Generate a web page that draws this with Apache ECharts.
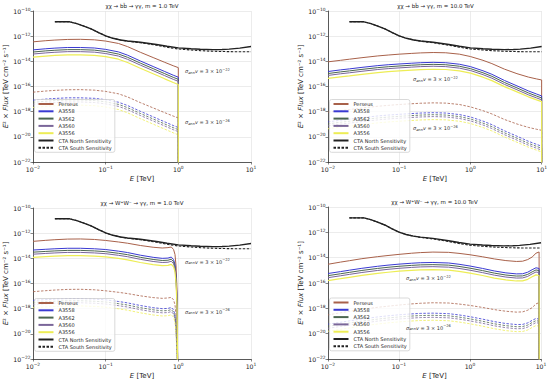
<!DOCTYPE html>
<html><head><meta charset="utf-8">
<script src="https://cdn.jsdelivr.net/npm/echarts@6/dist/echarts.min.js"></script>
<style>html,body{margin:0;padding:0;background:#fff}#chart{width:550px;height:382px}</style>
</head><body><div id="chart"></div>
<script>
// ---- Data: log10 of E^2 x Flux [TeV cm^-2 s^-1] ----
// (the y axis is a linear axis in log10 units, labelled as powers of ten)
// Panel 1: chi chi -> b bbar -> gamma gamma, m = 1.0 TeV
const E_bb1 = [0.01, 0.015, 0.02, 0.03, 0.045, 0.07, 0.1, 0.15, 0.2, 0.3, 0.45, 0.65, 0.85, 0.999, 1.0];
const bb1_Perseus = [-12.45, -12.36, -12.31, -12.26, -12.25, -12.29, -12.39, -12.58, -12.83, -13.28, -13.7, -14.08, -14.35, -14.5, -23];
const bb1_A3558 = [-13.09, -13.0, -12.95, -12.9, -12.9, -12.94, -13.05, -13.25, -13.51, -13.97, -14.41, -14.81, -15.1, -15.26, -23];
const bb1_A3562 = [-13.26, -13.17, -13.12, -13.07, -13.07, -13.11, -13.22, -13.42, -13.68, -14.14, -14.58, -14.98, -15.27, -15.43, -23];
const bb1_A3560 = [-13.42, -13.33, -13.28, -13.23, -13.23, -13.27, -13.38, -13.58, -13.84, -14.3, -14.74, -15.14, -15.43, -15.59, -23];
const bb1_A3556 = [-13.67, -13.58, -13.53, -13.48, -13.48, -13.52, -13.63, -13.83, -14.09, -14.55, -14.99, -15.39, -15.68, -15.84, -23];
const bb1_Perseus_low = [-16.45, -16.36, -16.31, -16.26, -16.25, -16.29, -16.39, -16.58, -16.83, -17.28, -17.7, -18.08, -18.35, -18.5, -23];
const bb1_A3558_low = [-17.09, -17.0, -16.95, -16.9, -16.9, -16.94, -17.05, -17.25, -17.51, -17.97, -18.41, -18.81, -19.1, -19.26, -23];
const bb1_A3562_low = [-17.26, -17.17, -17.12, -17.07, -17.07, -17.11, -17.22, -17.42, -17.68, -18.14, -18.58, -18.98, -19.27, -19.43, -23];
const bb1_A3560_low = [-17.42, -17.33, -17.28, -17.23, -17.23, -17.27, -17.38, -17.58, -17.84, -18.3, -18.74, -19.14, -19.43, -19.59, -23];
const bb1_A3556_low = [-17.67, -17.58, -17.53, -17.48, -17.48, -17.52, -17.63, -17.83, -18.09, -18.55, -18.99, -19.39, -19.68, -19.84, -23];

// Panel 2: chi chi -> b bbar -> gamma gamma, m = 10.0 TeV
const E_bb10 = [0.01, 0.015, 0.02, 0.03, 0.05, 0.07, 0.1, 0.15, 0.2, 0.3, 0.45, 0.7, 1.0, 1.5, 2, 3, 4.5, 6.5, 8.5, 9.99, 10];
const bb10_Perseus = [-14.04, -13.92, -13.83, -13.71, -13.57, -13.5, -13.43, -13.37, -13.33, -13.3, -13.32, -13.43, -13.62, -13.92, -14.18, -14.62, -14.98, -15.25, -15.4, -15.48, -23];
const bb10_A3558 = [-14.81, -14.68, -14.6, -14.48, -14.34, -14.27, -14.21, -14.15, -14.11, -14.08, -14.11, -14.23, -14.42, -14.75, -15.03, -15.52, -15.95, -16.35, -16.6, -16.75, -23];
const bb10_A3562 = [-14.97, -14.84, -14.76, -14.64, -14.5, -14.43, -14.37, -14.31, -14.27, -14.24, -14.27, -14.39, -14.58, -14.91, -15.19, -15.68, -16.11, -16.51, -16.76, -16.91, -23];
const bb10_A3560 = [-15.12, -14.99, -14.91, -14.79, -14.65, -14.58, -14.52, -14.46, -14.42, -14.39, -14.42, -14.54, -14.73, -15.06, -15.34, -15.83, -16.26, -16.66, -16.91, -17.06, -23];
const bb10_A3556 = [-15.36, -15.23, -15.15, -15.03, -14.89, -14.82, -14.76, -14.7, -14.66, -14.63, -14.65, -14.76, -14.94, -15.26, -15.53, -16.01, -16.43, -16.82, -17.06, -17.2, -23];
const bb10_Perseus_low = [-18.04, -17.92, -17.83, -17.71, -17.57, -17.5, -17.43, -17.37, -17.33, -17.3, -17.32, -17.43, -17.62, -17.92, -18.18, -18.62, -18.98, -19.25, -19.4, -19.48, -23];
const bb10_A3558_low = [-18.81, -18.68, -18.6, -18.48, -18.34, -18.27, -18.21, -18.15, -18.11, -18.08, -18.11, -18.23, -18.42, -18.75, -19.03, -19.52, -19.95, -20.35, -20.6, -20.75, -23];
const bb10_A3562_low = [-18.97, -18.84, -18.76, -18.64, -18.5, -18.43, -18.37, -18.31, -18.27, -18.24, -18.27, -18.39, -18.58, -18.91, -19.19, -19.68, -20.11, -20.51, -20.76, -20.91, -23];
const bb10_A3560_low = [-19.12, -18.99, -18.91, -18.79, -18.65, -18.58, -18.52, -18.46, -18.42, -18.39, -18.42, -18.54, -18.73, -19.06, -19.34, -19.83, -20.26, -20.66, -20.91, -21.06, -23];
const bb10_A3556_low = [-19.36, -19.23, -19.15, -19.03, -18.89, -18.82, -18.76, -18.7, -18.66, -18.63, -18.65, -18.76, -18.94, -19.26, -19.53, -20.01, -20.43, -20.82, -21.06, -21.2, -23];

// Panel 3: chi chi -> W+ W- -> gamma gamma, m = 1.0 TeV
const E_ww1 = [0.01, 0.015, 0.02, 0.03, 0.045, 0.07, 0.1, 0.15, 0.2, 0.3, 0.45, 0.6, 0.72, 0.8, 0.86, 0.9, 0.93, 0.96, 0.98];
const ww1_Perseus = [-12.65, -12.57, -12.52, -12.47, -12.46, -12.5, -12.58, -12.7, -12.8, -12.98, -13.12, -13.18, -13.15, -13.1, -13.3, -13.7, -14.6, -16.5, -23];
const ww1_A3558 = [-13.34, -13.28, -13.24, -13.2, -13.2, -13.24, -13.3, -13.43, -13.54, -13.75, -13.92, -14.0, -13.98, -13.9, -14.1, -14.5, -15.4, -17.3, -23];
const ww1_A3562 = [-13.51, -13.45, -13.41, -13.37, -13.37, -13.41, -13.47, -13.6, -13.71, -13.92, -14.09, -14.17, -14.15, -14.07, -14.27, -14.67, -15.57, -17.47, -23];
const ww1_A3560 = [-13.67, -13.61, -13.57, -13.53, -13.53, -13.57, -13.63, -13.76, -13.87, -14.08, -14.25, -14.33, -14.31, -14.23, -14.43, -14.83, -15.73, -17.63, -23];
const ww1_A3556 = [-13.92, -13.86, -13.82, -13.78, -13.78, -13.82, -13.88, -14.01, -14.12, -14.33, -14.5, -14.58, -14.56, -14.48, -14.68, -15.08, -15.98, -17.88, -23];
const ww1_Perseus_low = [-16.65, -16.57, -16.52, -16.47, -16.46, -16.5, -16.58, -16.7, -16.8, -16.98, -17.12, -17.18, -17.15, -17.1, -17.3, -17.7, -18.6, -20.5, -23];
const ww1_A3558_low = [-17.34, -17.28, -17.24, -17.2, -17.2, -17.24, -17.3, -17.43, -17.54, -17.75, -17.92, -18.0, -17.98, -17.9, -18.1, -18.5, -19.4, -21.3, -23];
const ww1_A3562_low = [-17.51, -17.45, -17.41, -17.37, -17.37, -17.41, -17.47, -17.6, -17.71, -17.92, -18.09, -18.17, -18.15, -18.07, -18.27, -18.67, -19.57, -21.47, -23];
const ww1_A3560_low = [-17.67, -17.61, -17.57, -17.53, -17.53, -17.57, -17.63, -17.76, -17.87, -18.08, -18.25, -18.33, -18.31, -18.23, -18.43, -18.83, -19.73, -21.63, -23];
const ww1_A3556_low = [-17.92, -17.86, -17.82, -17.78, -17.78, -17.82, -17.88, -18.01, -18.12, -18.33, -18.5, -18.58, -18.56, -18.48, -18.68, -19.08, -19.98, -21.88, -23];

// Panel 4: chi chi -> W+ W- -> gamma gamma, m = 10.0 TeV
const E_ww10 = [0.01, 0.015, 0.02, 0.03, 0.05, 0.07, 0.1, 0.15, 0.2, 0.3, 0.5, 0.7, 1.0, 1.5, 2.2, 3.2, 4.5, 5.5, 6.5, 7.5, 8.5, 9.4, 9.45];
const ww10_Perseus = [-14.52, -14.35, -14.24, -14.08, -13.92, -13.83, -13.74, -13.65, -13.6, -13.56, -13.58, -13.66, -13.77, -13.93, -14.1, -14.23, -14.3, -14.28, -14.15, -13.95, -13.65, -13.55, -23];
const ww10_A3558 = [-15.25, -15.1, -14.99, -14.84, -14.68, -14.59, -14.51, -14.44, -14.4, -14.38, -14.42, -14.52, -14.66, -14.85, -15.05, -15.2, -15.28, -15.27, -15.15, -14.95, -14.8, -14.85, -23];
const ww10_A3562 = [-15.42, -15.27, -15.16, -15.01, -14.85, -14.76, -14.68, -14.61, -14.57, -14.55, -14.59, -14.69, -14.83, -15.02, -15.22, -15.37, -15.45, -15.44, -15.32, -15.12, -14.97, -15.02, -23];
const ww10_A3560 = [-15.58, -15.43, -15.32, -15.17, -15.01, -14.92, -14.84, -14.77, -14.73, -14.71, -14.75, -14.85, -14.99, -15.18, -15.38, -15.53, -15.61, -15.6, -15.48, -15.28, -15.13, -15.18, -23];
const ww10_A3556 = [-15.81, -15.66, -15.55, -15.4, -15.24, -15.15, -15.07, -15.0, -14.96, -14.94, -14.98, -15.08, -15.22, -15.41, -15.61, -15.76, -15.84, -15.83, -15.71, -15.51, -15.36, -15.41, -23];
const ww10_Perseus_low = [-18.52, -18.35, -18.24, -18.08, -17.92, -17.83, -17.74, -17.65, -17.6, -17.56, -17.58, -17.66, -17.77, -17.93, -18.1, -18.23, -18.3, -18.28, -18.15, -17.95, -17.65, -17.55, -23];
const ww10_A3558_low = [-19.25, -19.1, -18.99, -18.84, -18.68, -18.59, -18.51, -18.44, -18.4, -18.38, -18.42, -18.52, -18.66, -18.85, -19.05, -19.2, -19.28, -19.27, -19.15, -18.95, -18.8, -18.85, -23];
const ww10_A3562_low = [-19.42, -19.27, -19.16, -19.01, -18.85, -18.76, -18.68, -18.61, -18.57, -18.55, -18.59, -18.69, -18.83, -19.02, -19.22, -19.37, -19.45, -19.44, -19.32, -19.12, -18.97, -19.02, -23];
const ww10_A3560_low = [-19.58, -19.43, -19.32, -19.17, -19.01, -18.92, -18.84, -18.77, -18.73, -18.71, -18.75, -18.85, -18.99, -19.18, -19.38, -19.53, -19.61, -19.6, -19.48, -19.28, -19.13, -19.18, -23];
const ww10_A3556_low = [-19.81, -19.66, -19.55, -19.4, -19.24, -19.15, -19.07, -19.0, -18.96, -18.94, -18.98, -19.08, -19.22, -19.41, -19.61, -19.76, -19.84, -19.83, -19.71, -19.51, -19.36, -19.41, -23];

// CTA sensitivities (same in every panel)
const E_cta = [0.02, 0.032, 0.04, 0.05, 0.063, 0.08, 0.1, 0.126, 0.16, 0.2, 0.3, 0.5, 0.7, 1, 1.5, 2, 3, 4, 5, 7, 10];
const cta_North = [-10.86, -10.86, -11.0, -11.2, -11.42, -11.72, -11.98, -12.17, -12.3, -12.38, -12.48, -12.66, -12.8, -12.93, -13.0, -13.04, -13.07, -13.06, -13.03, -12.95, -12.82];
const cta_South = [-10.86, -10.86, -11.0, -11.2, -11.42, -11.72, -11.98, -12.17, -12.3, -12.4, -12.52, -12.72, -12.88, -13.02, -13.1, -13.15, -13.2, -13.22, -13.23, -13.24, -13.24];

// Text
const clusterNames = ['Perseus', 'A3558', 'A3562', 'A3560', 'A3556'];
const ctaNames = ['CTA North Sensitivity', 'CTA South Sensitivity'];
const panelTitles = ['χχ → bb̄ → γγ, m = 1.0 TeV', 'χχ → bb̄ → γγ, m = 10.0 TeV',
                     'χχ → W⁺W⁻ → γγ, m = 1.0 TeV', 'χχ → W⁺W⁻ → γγ, m = 10.0 TeV'];
const xRange = [0.01, 10];          // E [TeV], log axis
const yExpRange = [-22, -10];       // powers of ten on the flux axis
const yExpStep = 2;

// ---- Styling / layout ----
const FONT = 'DejaVu Sans';
const colors = { Perseus: '#a8614a', A3558: '#3a3ad2', A3562: '#4c6650', A3560: '#7a6699', A3556: '#eded55' };
const grids = [
  { left: 33, top: 11, width: 218, height: 151 },
  { left: 328, top: 11, width: 215, height: 151 },
  { left: 33, top: 208, width: 218, height: 151 },
  { left: 328, top: 207, width: 213, height: 152 }
];
const panels = [
  { E: E_bb1, hi: [bb1_Perseus, bb1_A3558, bb1_A3562, bb1_A3560, bb1_A3556], lo: [bb1_Perseus_low, bb1_A3558_low, bb1_A3562_low, bb1_A3560_low, bb1_A3556_low] },
  { E: E_bb10, hi: [bb10_Perseus, bb10_A3558, bb10_A3562, bb10_A3560, bb10_A3556], lo: [bb10_Perseus_low, bb10_A3558_low, bb10_A3562_low, bb10_A3560_low, bb10_A3556_low] },
  { E: E_ww1, hi: [ww1_Perseus, ww1_A3558, ww1_A3562, ww1_A3560, ww1_A3556], lo: [ww1_Perseus_low, ww1_A3558_low, ww1_A3562_low, ww1_A3560_low, ww1_A3556_low] },
  { E: E_ww10, hi: [ww10_Perseus, ww10_A3558, ww10_A3562, ww10_A3560, ww10_A3556], lo: [ww10_Perseus_low, ww10_A3558_low, ww10_A3562_low, ww10_A3560_low, ww10_A3556_low] }
];
const annPos = [[185, 71, 122], [413, 79, 128], [185, 261.7, 311.7], [406, 278, 327.7]];
const legendPos = [[34.5, 99.5], [329.5, 99.5], [34.5, 298.5], [329.5, 298]];

function pairs(E, logs) { return E.map((e, i) => [e, logs[i]]); }
function supText(e) { return (e < 0 ? '\u2212' : '') + Math.abs(e); }
function xLabel(v) { return '{b|10}{s|' + supText(Math.round(Math.log10(v))) + '}'; }
function yLabel(v) { return '{b|10}{s|' + supText(Math.round(v)) + '}'; }
const tickRich = {
  b: { fontFamily: FONT, fontSize: 6.2, color: '#222' },
  s: { fontFamily: FONT, fontSize: 4.4, color: '#222', padding: [0, 0, 4, 0] }
};
const nameRich = { i: { fontFamily: FONT, fontSize: 7, fontStyle: 'italic', color: '#222' }, n: { fontFamily: FONT, fontSize: 7, color: '#222' } };

const xAxes = [], yAxes = [], series = [], legends = [], graphics = [];
grids.forEach((g, i) => {
  xAxes.push({
    type: 'log', logBase: 10, gridIndex: i, min: xRange[0], max: xRange[1],
    name: '{i|E}{n| [TeV]}', nameLocation: 'middle', nameGap: 13,
    nameTextStyle: { fontFamily: FONT, fontSize: 7, color: '#222', rich: nameRich },
    axisLine: { show: true, lineStyle: { color: '#333', width: 0.8 } },
    axisTick: { show: true, length: 2.5, lineStyle: { color: '#333', width: 0.6 } },
    splitLine: { show: true, lineStyle: { color: '#e4e4e4', width: 0.7 } },
    axisLabel: { margin: 3, formatter: xLabel, rich: tickRich, showMinLabel: true, showMaxLabel: true }
  });
  yAxes.push({
    type: 'value', gridIndex: i, min: yExpRange[0], max: yExpRange[1], interval: yExpStep,
    name: '{i|E}{n|² × }{i|Flux}{n| [TeV cm⁻² s⁻¹]}', nameLocation: 'middle', nameGap: 22,
    nameTextStyle: { fontFamily: FONT, fontSize: 7, color: '#222', rich: nameRich },
    axisLine: { show: true, lineStyle: { color: '#333', width: 0.8 } },
    axisTick: { show: true, length: 2.5, lineStyle: { color: '#333', width: 0.6 } },
    splitLine: { show: true, lineStyle: { color: '#e4e4e4', width: 0.7 } },
    axisLabel: { margin: 2.5, formatter: yLabel, rich: tickRich, showMinLabel: true, showMaxLabel: true }
  });
  const p = panels[i];
  clusterNames.forEach((n, k) => {
    const last = (n === 'A3556');
    series.push({ type: 'line', name: n, xAxisIndex: i, yAxisIndex: i, data: pairs(p.E, p.hi[k]),
      symbol: 'none', z: last ? 5 : 3, silent: true, lineStyle: { color: colors[n], width: last ? 1.2 : 1 }, itemStyle: { color: colors[n] } });
  });
  clusterNames.forEach((n, k) => {
    series.push({ type: 'line', name: n, xAxisIndex: i, yAxisIndex: i, data: pairs(p.E, p.lo[k]),
      symbol: 'none', z: 2, silent: true, lineStyle: { color: colors[n], width: 0.8, type: [2.5, 1.5] }, itemStyle: { color: colors[n] } });
  });
  series.push({ type: 'line', name: ctaNames[0], xAxisIndex: i, yAxisIndex: i, data: pairs(E_cta, cta_North),
    symbol: 'none', z: 4, silent: true, lineStyle: { color: '#222', width: 1.4 }, itemStyle: { color: '#222' } });
  series.push({ type: 'line', name: ctaNames[1], xAxisIndex: i, yAxisIndex: i, data: pairs(E_cta, cta_South),
    symbol: 'none', z: 4, silent: true, lineStyle: { color: '#222', width: 1.1, type: [2.5, 1.5] }, itemStyle: { color: '#222' } });

  legends.push({
    orient: 'vertical', left: legendPos[i][0], top: legendPos[i][1],
    itemWidth: 15, itemHeight: 6, itemGap: 2.3, padding: [2, 3, 2, 3], selectedMode: false,
    backgroundColor: 'rgba(255,255,255,0.8)', borderColor: '#cfcfcf', borderWidth: 0.8, borderRadius: 2,
    itemStyle: { opacity: 0 },
    textStyle: { fontFamily: FONT, fontSize: 5, color: '#222' },
    data: clusterNames.concat(ctaNames)
  });

  graphics.push({ type: 'text', x: g.left + g.width / 2, y: g.top - 5.3, silent: true,
    style: { text: panelTitles[i], align: 'center', verticalAlign: 'middle', fontFamily: FONT, fontSize: 5.5, fill: '#222' } });
  const annRich = {
    i: { fontFamily: FONT, fontSize: 5, fontStyle: 'italic', fill: '#333' },
    sub: { fontFamily: FONT, fontSize: 3.6, fontStyle: 'italic', fill: '#333', padding: [3, 0, 0, 0] },
    t: { fontFamily: FONT, fontSize: 5, fill: '#333' },
    sup: { fontFamily: FONT, fontSize: 3.6, fill: '#333', padding: [0, 0, 3, 0] }
  };
  [['22', annPos[i][1]], ['26', annPos[i][2]]].forEach(([ex, yy]) => {
    graphics.push({ type: 'text', x: annPos[i][0], y: yy, silent: true, z: 10,
      style: { text: '{i|σ}{sub|ann}{i|v}{t| = 3 × 10}{sup|\u2212' + ex + '}', align: 'left', verticalAlign: 'middle', rich: annRich } });
  });
});

const chart = echarts.init(document.getElementById('chart'), null, { renderer: 'svg' });
chart.setOption({
  animation: false,
  backgroundColor: '#ffffff',
  grid: grids,
  xAxis: xAxes,
  yAxis: yAxes,
  legend: legends,
  series: series,
  graphic: graphics
});
</script></body></html>
